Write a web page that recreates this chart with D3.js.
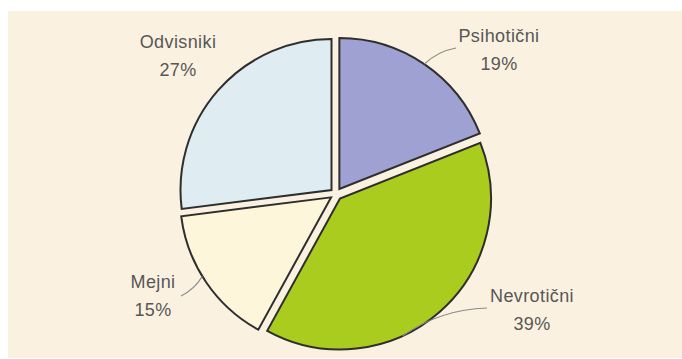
<!DOCTYPE html>
<html>
<head>
<meta charset="utf-8">
<script src="https://cdn.jsdelivr.net/npm/d3@7"></script>
<style>
  html, body { margin: 0; padding: 0; background: #ffffff; }
  svg { display: block; }
  text { font-family: "Liberation Sans", Arial, sans-serif; }
</style>
</head>
<body>
<svg id="chart" width="682" height="359"></svg>
<script>
// Patient groups and their shares (%)
const categories = ["Psihotični", "Nevrotični", "Mejni", "Odvisniki"];
const shares = [19, 39, 15, 27];
const percentLabels = ["19%", "39%", "15%", "27%"];
const sliceColors = ["#9fa1d2", "#a9cc1e", "#fdf6da", "#dfedf2"];

const width = 682, height = 359;
const cx = 336, cy = 194, radius = 151, explode = 6;

const svg = d3.select("#chart");

// cream panel with a thin white frame at top / left
svg.append("rect")
  .attr("x", 8).attr("y", 11)
  .attr("width", width - 8).attr("height", height - 12)
  .attr("fill", "#fbf1e0");

const data = categories.map((c, i) => ({ name: c, value: shares[i], label: percentLabels[i], color: sliceColors[i] }));

const pie = d3.pie().sort(null).value(d => d.value).startAngle(0).endAngle(2 * Math.PI);
const arcs = pie(data);
const arc = d3.arc().innerRadius(0).outerRadius(radius);

const g = svg.append("g").attr("transform", `translate(${cx},${cy})`);

function offsetOf(a) {
  const mid = (a.startAngle + a.endAngle) / 2;
  return [explode * Math.sin(mid), -explode * Math.cos(mid)];
}

g.selectAll("path.slice")
  .data(arcs)
  .join("path")
  .attr("class", "slice")
  .attr("transform", d => { const o = offsetOf(d); return `translate(${o[0]},${o[1]})`; })
  .attr("d", arc)
  .attr("fill", d => d.data.color)
  .attr("stroke", "#2e2e2e")
  .attr("stroke-width", 2)
  .attr("stroke-linejoin", "miter");

// label placement (absolute page coords) and leader anchor as fraction along each slice
const labelPos = [
  { x: 499, y: 42, frac: 0.5, lead: [456, 48] },
  { x: 532, y: 302, frac: 0.62, lead: [487, 308] },
  { x: 153, y: 288, frac: 0.55, lead: [181, 296] },
  { x: 178, y: 48, frac: null, lead: null }
];

arcs.forEach((a, i) => {
  const p = labelPos[i];
  const o = offsetOf(a);
  if (p.frac !== null) {
    const ang = a.startAngle + p.frac * (a.endAngle - a.startAngle);
    const sx = cx + o[0] + radius * Math.sin(ang);
    const sy = cy + o[1] - radius * Math.cos(ang);
    const ex = p.lead[0], ey = p.lead[1];
    const mx = (sx + ex) / 2, my = (sy + ey) / 2;
    svg.append("path")
      .attr("d", `M${sx},${sy} Q${mx + (ey - sy) * 0.15},${my - (ex - sx) * 0.15} ${ex},${ey}`)
      .attr("fill", "none")
      .attr("stroke", "#8a8a8a")
      .attr("stroke-width", 1.2);
  }
  const t = svg.append("text")
    .attr("x", p.x).attr("y", p.y)
    .attr("text-anchor", "middle")
    .attr("font-size", 18)
    .attr("letter-spacing", 0.4)
    .attr("fill", "#575757");
  t.append("tspan").attr("x", p.x).attr("dy", 0).text(a.data.name);
  t.append("tspan").attr("x", p.x).attr("dy", 28).text(a.data.label);
});
</script>
</body>
</html>
